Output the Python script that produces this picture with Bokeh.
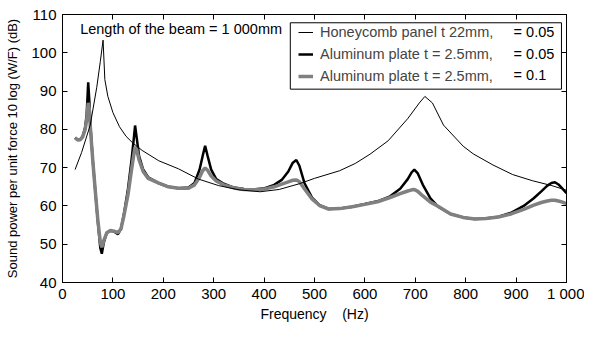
from bokeh.plotting import figure
from bokeh.models import LinearAxis, Range1d, Legend, LegendItem, Label, FixedTicker, BoxAnnotation
from bokeh.embed import file_html
from bokeh.resources import INLINE

# ---------------- data ----------------
honey_freq = [25, 38, 55, 68, 75, 80.5, 84, 90, 100, 113, 126, 139, 158, 191, 230, 270,
              310, 350, 392, 430, 470, 500, 550, 581, 610, 646, 685, 708, 719, 734, 756,
              795, 815, 854, 893, 932, 971, 1000]
honey_db = [69.5, 74.0, 81.1, 91.0, 97.7, 103.3, 93.0, 88.6, 84.4, 80.7, 78.2, 76.5, 74.5,
            71.8, 69.7, 67.0, 65.3, 64.2, 63.7, 64.3, 65.8, 67.2, 69.2, 71.1,
            73.5, 77.0, 82.8, 86.9, 88.6, 86.9, 81.1, 75.6, 73.6, 70.7, 68.2, 66.6, 65.3,
            64.1]

alu_freq = [25, 30, 35, 40, 45, 48, 51, 53, 56, 60, 65, 70, 75, 78, 82, 88, 95, 102, 110,
            116, 122, 130, 137, 141, 144, 147, 152, 160, 170, 190, 210, 230, 250, 262, 272,
            278, 283, 288, 295, 305, 320, 340, 360, 380, 400, 420, 435, 448, 457, 464, 470,
            480, 495, 510, 528, 550, 575, 600, 625, 650, 670, 685, 693, 698, 705, 715, 730,
            745, 770, 795, 818, 840, 865, 890, 915, 935, 950, 962, 970, 977, 984, 992, 1000]
alu_eta005_db = [77.8, 77.3, 77.3, 78.2, 80.5, 84.0, 92.3, 88.0, 80.0, 72.0, 64.0, 56.0,
                 49.0, 47.5, 50.5, 53.0, 53.5, 53.3, 52.6, 54.0, 58.0, 64.5, 72.0, 77.0,
                 81.0, 78.0, 73.0, 69.5, 67.5, 66.0, 65.0, 64.6, 64.8, 66.0, 69.5, 73.0,
                 75.7, 73.0, 69.5, 67.0, 65.8, 64.8, 64.4, 64.3, 64.6, 65.5, 66.8, 69.0,
                 71.3, 72.0, 70.5, 66.0, 62.2, 60.2, 59.2, 59.3, 59.8, 60.5, 61.2, 62.5,
                 64.5, 67.0, 68.8, 69.5, 68.5, 65.5, 62.0, 59.8, 57.9, 57.0, 56.6, 56.7,
                 57.2, 58.2, 60.0, 62.0, 63.8, 65.3, 66.0, 66.2, 65.6, 64.5, 63.3]
alu_eta01_db = [77.8, 77.2, 77.3, 78.0, 80.0, 82.5, 86.9, 85.5, 79.0, 72.0, 64.0, 56.5,
                50.5, 49.2, 51.0, 53.0, 53.6, 53.4, 53.0, 54.0, 57.5, 63.0, 69.5, 73.0,
                75.4, 74.8, 72.0, 69.0, 67.2, 66.0, 65.0, 64.6, 64.6, 65.5, 67.5, 69.2,
                69.9, 69.3, 67.8, 66.5, 65.5, 64.7, 64.3, 64.2, 64.4, 65.0, 65.7, 66.3,
                66.7, 66.8, 66.3, 64.5, 61.8, 60.1, 59.2, 59.3, 59.8, 60.4, 61.1, 62.2,
                63.2, 63.9, 64.2, 64.3, 63.8, 62.6, 61.0, 59.9, 57.9, 57.0, 56.6, 56.7,
                57.1, 57.9, 59.1, 60.2, 60.9, 61.3, 61.5, 61.5, 61.3, 61.0, 60.6]

x_ticks = [0, 100, 200, 300, 400, 500, 600, 700, 800, 900, 1000]
y_ticks = [40, 50, 60, 70, 80, 90, 100, 110]
legend_labels = ["Honeycomb panel t 22mm,", "Aluminum plate t = 2.5mm,", "Aluminum plate t = 2.5mm,"]
eta_labels = ["= 0.05", "= 0.05", "= 0.1"]
annotation_text = "Length of the beam = 1 000mm"

FONT = "Liberation Sans"

p = figure(width=584, height=324, output_backend="svg", toolbar_location=None,
           x_range=Range1d(0, 1000), y_range=Range1d(40, 110),
           min_border_left=62, min_border_right=18, min_border_top=14, min_border_bottom=42)
p.xgrid.visible = False
p.ygrid.visible = False
p.outline_line_color = "black"
p.outline_line_width = 1

def style_axis(ax, show_labels=True):
    ax.axis_line_color = "black"
    ax.major_tick_line_color = "black"
    ax.major_tick_in = 5
    ax.major_tick_out = 0
    ax.minor_tick_line_color = None
    ax.major_label_text_font = FONT
    ax.major_label_text_font_size = "15px"
    ax.major_label_text_color = "black" if show_labels else None
    ax.axis_label_text_font = FONT
    ax.axis_label_text_font_style = "normal"
    ax.axis_label_text_color = "black"

p.xaxis.ticker = FixedTicker(ticks=x_ticks)
p.yaxis.ticker = FixedTicker(ticks=y_ticks)
p.xaxis.major_label_overrides = {1000: "1 000"}
style_axis(p.xaxis[0])
style_axis(p.yaxis[0])
p.xaxis.axis_label = "Frequency\u00a0\u00a0\u00a0\u00a0(Hz)"
p.xaxis.axis_label_text_font_size = "14px"
p.xaxis.major_label_standoff = 2
p.xaxis.axis_label_standoff = 1
p.yaxis.axis_label = "Sound power per unit force 10 log (W/F) (dB)"
p.yaxis.axis_label_text_font_size = "13px"
p.yaxis.major_label_standoff = 6
p.yaxis.axis_label_standoff = 8

top_ax = LinearAxis(ticker=FixedTicker(ticks=x_ticks))
style_axis(top_ax, show_labels=False)
top_ax.major_label_text_font_size = "0px"
top_ax.major_label_standoff = 0
p.add_layout(top_ax, "above")
right_ax = LinearAxis(ticker=FixedTicker(ticks=y_ticks))
style_axis(right_ax, show_labels=False)
right_ax.major_label_text_font_size = "0px"
right_ax.major_label_standoff = 0
p.add_layout(right_ax, "right")

r_alu1 = p.line(alu_freq, alu_eta005_db, line_color="black", line_width=2.5)
r_alu2 = p.line(alu_freq, alu_eta01_db, line_color="#808080", line_width=3.5)
r_honey = p.line(honey_freq, honey_db, line_color="black", line_width=1)

# legend frame
legend_box = BoxAnnotation(left=452, right=990, top=107.84, bottom=90.5,
                           fill_color="white", fill_alpha=0.0,
                           line_color="black", line_alpha=1.0, line_width=1)
p.add_layout(legend_box)

legend = Legend(items=[LegendItem(label=legend_labels[0], renderers=[r_honey]),
                       LegendItem(label=legend_labels[1], renderers=[r_alu1]),
                       LegendItem(label=legend_labels[2], renderers=[r_alu2])],
                location=(236, 197), padding=2, spacing=4,
                glyph_width=15, glyph_height=18, label_standoff=7, label_width=100,
                label_text_font=FONT, label_text_font_size="14.5px",
                border_line_color=None, background_fill_alpha=0)
p.add_layout(legend)

for lbl, yy in zip(eta_labels, [105.5, 99.8, 94.1]):
    p.add_layout(Label(x=895, y=yy, text=lbl, text_font=FONT, text_font_size="14.5px",
                       text_baseline="middle", text_align="left", text_color="black",
                       level="overlay"))

p.add_layout(Label(x=35, y=106.2, text=annotation_text, text_font=FONT, text_font_size="14.5px",
                   text_baseline="middle", text_align="left", text_color="black",
                   level="overlay"))

open("out.html", "w").write(file_html(p, INLINE))
